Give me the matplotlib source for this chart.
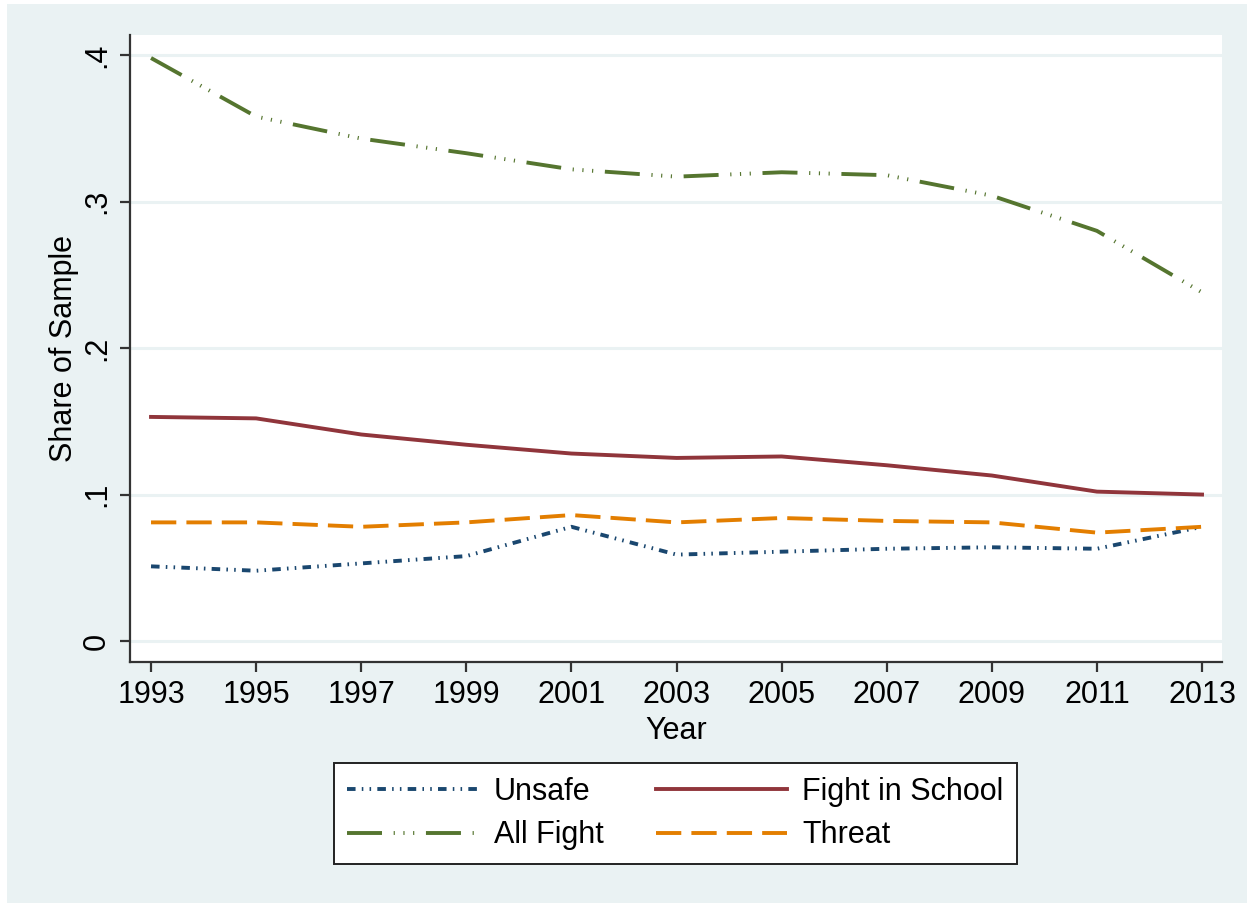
import matplotlib
matplotlib.use("Agg")
import matplotlib.pyplot as plt
from matplotlib.patches import Rectangle

plt.rcParams['font.family'] = ['Liberation Sans', 'DejaVu Sans']

years = [1993, 1995, 1997, 1999, 2001, 2003, 2005, 2007, 2009, 2011, 2013]
unsafe = [0.051, 0.048, 0.053, 0.058, 0.078, 0.059, 0.061, 0.063, 0.064, 0.063, 0.078]
fight_in_school = [0.153, 0.152, 0.141, 0.134, 0.128, 0.125, 0.126, 0.120, 0.113, 0.102, 0.100]
all_fight = [0.398, 0.358, 0.343, 0.333, 0.322, 0.317, 0.320, 0.318, 0.304, 0.280, 0.238]
threat = [0.081, 0.081, 0.078, 0.081, 0.086, 0.081, 0.084, 0.082, 0.081, 0.074, 0.078]

y_ticks = [0, 0.1, 0.2, 0.3, 0.4]
y_ticklabels = ["0", ".1", ".2", ".3", ".4"]

BG = "#EAF2F3"
W, H = 1252, 907
fig = plt.figure(figsize=(W / 100, H / 100), dpi=100, facecolor="white")
fig.patches.append(Rectangle((7 / W, 4 / H), (W - 12) / W, (H - 8) / H,
                             transform=fig.transFigure, facecolor=BG,
                             edgecolor="none", zorder=-10))

ax = fig.add_axes([130 / W, (H - 662) / H, (1222 - 130) / W, (662 - 35) / H])
ax.set_facecolor("white")

lw = 2.8
ax.plot(years, unsafe, color="#1A476F", lw=lw, label="Unsafe",
        dashes=(2.2, 1.6, 0.4, 1.6, 0.4, 1.6), solid_capstyle="butt",
        dash_capstyle="butt")
ax.plot(years, all_fight, color="#55752F", lw=lw, label="All Fight",
        dashes=(9, 3, 0.3, 2.2, 0.3, 2.2, 0.3, 3), dash_capstyle="butt")
ax.plot(years, fight_in_school, color="#90353B", lw=lw, label="Fight in School")
ax.plot(years, threat, color="#E37E00", lw=lw, label="Threat",
        dashes=(6.5, 2.6), dash_capstyle="butt")

ax.set_xlim(1992.6, 2013.38)
ax.set_ylim(-0.0143, 0.4137)
ax.set_xticks(years)
ax.set_xticklabels([str(y) for y in years])
ax.set_yticks(y_ticks)
ax.set_yticklabels(y_ticklabels, rotation=90, va="center")

ax.grid(axis="y", color=BG, lw=2.2, zorder=0)
ax.set_axisbelow(True)

for s in ["top", "right"]:
    ax.spines[s].set_visible(False)
for s in ["left", "bottom"]:
    ax.spines[s].set_color("#333333")
    ax.spines[s].set_linewidth(1.6)

ax.tick_params(axis="both", length=7, width=1.6, color="#333333",
               labelsize=22, pad=6)
ax.set_xlabel("Year", fontsize=22, labelpad=4)
ax.set_ylabel("Share of Sample", fontsize=22, labelpad=2)

leg = fig.legend(loc="center", bbox_to_anchor=(675.5 / W, 1 - 813.5 / H),
                 ncol=2, fontsize=22, frameon=True, fancybox=False,
                 framealpha=1.0,
                 handlelength=4.3, handletextpad=0.5, columnspacing=1.7,
                 labelspacing=0.45, borderpad=0.45, edgecolor="#222222")
leg.get_frame().set_linewidth(1.4)
leg.get_frame().set_facecolor("white")

fig.savefig("out.png", dpi=100, facecolor=fig.get_facecolor())
